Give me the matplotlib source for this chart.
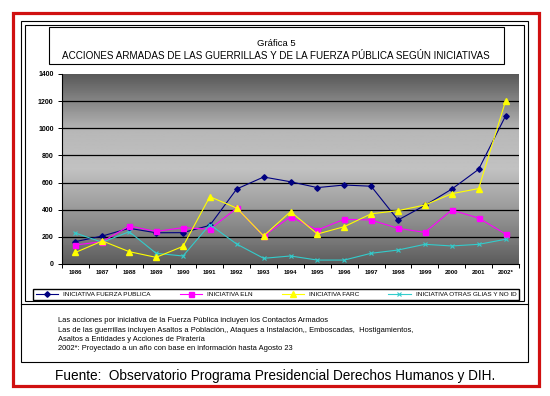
import numpy as np
import matplotlib
matplotlib.use('Agg')
import matplotlib.pyplot as plt
from matplotlib.patches import Rectangle

plt.rcParams['font.family'] = ['Liberation Sans', 'DejaVu Sans']

years = ['1986', '1987', '1988', '1989', '1990', '1991', '1992', '1993', '1994',
         '1995', '1996', '1997', '1998', '1999', '2000', '2001', '2002*']
fuerza = [165, 206, 263, 230, 231, 285, 553, 641, 606, 563, 582, 573, 324, 432, 552, 698, 1091]
eln = [140, 165, 280, 240, 268, 256, 412, 206, 349, 250, 330, 324, 263, 233, 398, 338, 221]
farc = [85, 170, 91, 49, 130, 496, 412, 207, 386, 221, 275, 370, 393, 435, 518, 556, 1201]
otras = [228, 160, 238, 79, 59, 290, 147, 42, 59, 29, 29, 79, 103, 145, 133, 145, 182]
yticks = [0, 200, 400, 600, 800, 1000, 1200, 1400]

W, H = 550, 396
fig = plt.figure(figsize=(W / 100, H / 100), dpi=100)

# overlay in pixel coordinates for frames and text
ov = fig.add_axes([0, 0, 1, 1])
ov.set_xlim(0, W)
ov.set_ylim(H, 0)
ov.axis('off')
ov.add_patch(Rectangle((13, 13), 525.5, 372.5, fill=False, ec='#d01010', lw=2.3))
ov.add_patch(Rectangle((21, 21), 507, 341, fill=False, ec='black', lw=0.8))
ov.add_patch(Rectangle((25, 25), 499, 276, fill=False, ec='black', lw=0.8))
ov.plot([21, 528], [304, 304], color='black', lw=0.8)
ov.add_patch(Rectangle((49, 27), 455, 37, fill=False, ec='black', lw=0.8))
ov.text(276, 44, 'Gráfica 5', ha='center', va='center', fontsize=6.8)
ov.text(276, 56, 'ACCIONES ARMADAS DE LAS GUERRILLAS Y DE LA FUERZA PÚBLICA SEGÚN INICIATIVAS',
        ha='center', va='center', fontsize=7.1)

notes = ['Las acciones por iniciativa de la Fuerza Pública incluyen los Contactos Armados',
         'Las de las guerrillas incluyen Asaltos a Población,, Ataques a Instalación,, Emboscadas,  Hostigamientos,',
         'Asaltos a Entidades y Acciones de Piratería',
         '2002*: Proyectado a un año con base en información hasta Agosto 23']
for i, t in enumerate(notes):
    ov.text(58, 321 + i * 9.3, t, ha='left', va='center', fontsize=5.4)
ov.text(55, 376, 'Fuente:  Observatorio Programa Presidencial Derechos Humanos y DIH.',
        ha='left', va='center', fontsize=9.8)

# chart axes
ax = fig.add_axes([62 / W, 1 - 264 / H, 457 / W, 190 / H])
x = np.arange(len(years))
ax.set_xlim(-0.5, len(years) - 0.5)
ax.set_ylim(0, 1400)

grad = np.interp(np.linspace(0, 1, 200), [0, 0.15, 0.5, 0.7, 1], [0.36, 0.5, 0.76, 0.72, 0.35])
ax.imshow(grad[:, None], extent=[-0.5, len(years) - 0.5, 0, 1400], origin='lower',
          aspect='auto', cmap='gray', vmin=0, vmax=1, zorder=0)

for v in yticks[1:-1]:
    ax.axhline(v, color='black', lw=0.9, zorder=1)

ax.plot(x, fuerza, color='#000080', marker='D', ms=2.8, lw=0.8, label='INICIATIVA FUERZA PUBLICA', zorder=3)
ax.plot(x, eln, color='#ff00ff', marker='s', ms=3.6, lw=0.8, label='INICIATIVA ELN', zorder=3)
ax.plot(x, farc, color='#ffff00', marker='^', ms=3.8, lw=0.8, label='INICIATIVA FARC', zorder=4)
ax.plot(x, otras, color='#33cccc', marker='x', ms=3, mew=0.8, lw=0.8,
        label='INICIATIVA OTRAS GLIAS Y NO ID', zorder=3)

for s in ['top', 'right']:
    ax.spines[s].set_visible(False)
ax.spines['left'].set_linewidth(0.8)
ax.spines['bottom'].set_linewidth(0.8)
ax.set_yticks(yticks)
ax.set_yticklabels([str(v) for v in yticks], fontsize=5, fontweight='bold')
ax.set_xticks(x)
ax.set_xticklabels(years, fontsize=4.3, fontweight='bold')
ax.set_xticks(np.arange(len(years) + 1) - 0.5, minor=True)
ax.tick_params(axis='x', which='major', length=0, pad=4)
ax.tick_params(axis='x', which='minor', length=3, width=0.7)
ax.tick_params(axis='y', length=3, width=0.7, pad=3)

fig.legend(loc='lower left', bbox_to_anchor=(30 / W, 1 - 303 / H, 492 / W, 15 / H), mode='expand',
           ncol=4, fontsize=4.6, frameon=True, fancybox=False, edgecolor='black',
           handlelength=3.5, handletextpad=0.8, borderpad=0.4, framealpha=1)

fig.savefig('out.png', dpi=100)
